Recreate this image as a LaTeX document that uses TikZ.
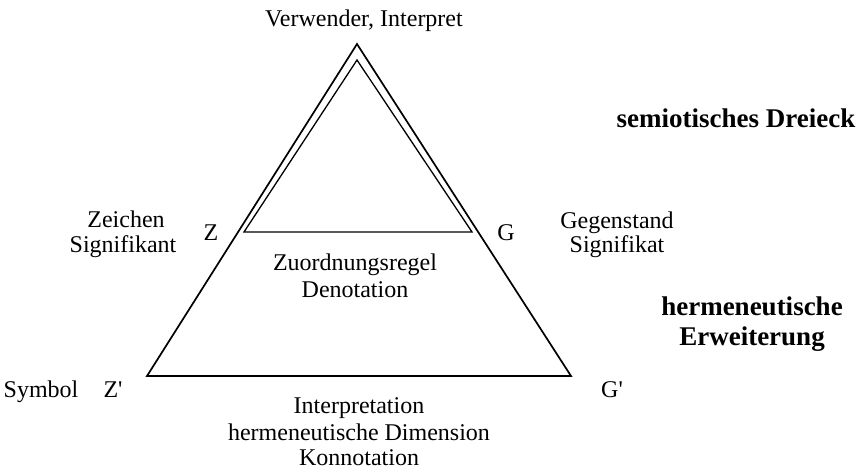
\documentclass[tikz,border=0pt]{standalone}
\usepackage{fontspec}
\setmainfont{Liberation Serif}[Ligatures=TeXOff]
\begin{document}
\begin{tikzpicture}[x=1pt,y=-1pt,
  lbl/.style={inner sep=0pt,anchor=base,font=\fontsize{24}{27}\selectfont},
  blbl/.style={inner sep=0pt,anchor=base,font=\fontsize{27}{30}\selectfont\bfseries},
  tri/.style={line width=1.7pt,line join=miter}]
\useasboundingbox (0,0) rectangle (862,472);
% outer triangle
\coordinate (A) at (357,44);
\coordinate (B) at (147,376);
\coordinate (C) at (571,376);
\draw[tri] (A) -- (B) -- (C) -- cycle;
% inner triangle
\coordinate (a) at (357,60);
\coordinate (b) at (244,232);
\coordinate (c) at (472,232);
\draw[line width=1.3pt] (a) -- (b) -- (c) -- cycle;
% labels
\node[lbl] (vi) at (364,26) {Verwender, Interpret};
\node[blbl] (sd) at (736,127) {semiotisches Dreieck};
\node[lbl] (zs1) at (126,227) {Zeichen};
\node[lbl] (zs2) at (123,252) {Signifikant};
\node[lbl] (z) at (211,240) {Z};
\node[lbl] (g) at (506,240) {G};
\node[lbl] (gs1) at (617,228) {Gegenstand};
\node[lbl] (gs2) at (617,252) {Signifikat};
\node[lbl] (zd1) at (355,270) {Zuordnungsregel};
\node[lbl] (zd2) at (355,297) {Denotation};
\node[blbl] (he1) at (752,315) {hermeneutische};
\node[blbl] (he2) at (752,345) {Erweiterung};
\node[lbl] (sy) at (41,397) {Symbol};
\node[lbl] (zp) at (113,397) {Z'};
\node[lbl] (gp) at (612,397) {G'};
\node[lbl] (ik1) at (359,413) {Interpretation};
\node[lbl] (ik2) at (359,440) {hermeneutische Dimension};
\node[lbl] (ik3) at (359,465) {Konnotation};
\end{tikzpicture}
\end{document}
